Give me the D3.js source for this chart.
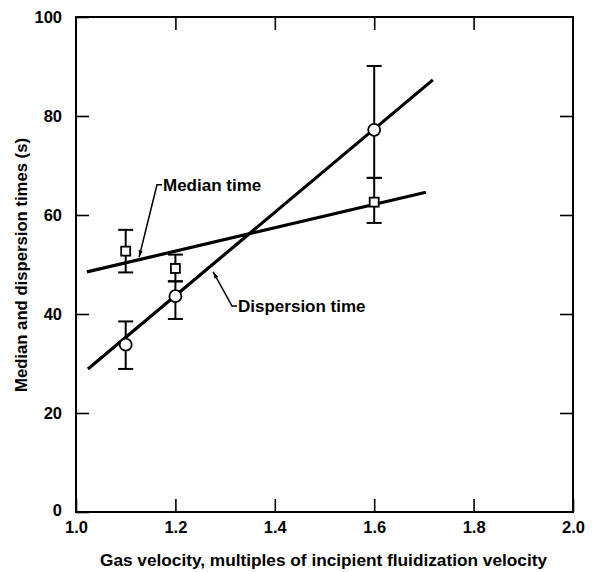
<!DOCTYPE html>
<html>
<head>
<meta charset="utf-8">
<script src="https://cdn.jsdelivr.net/npm/d3@7"></script>
<style>
	body { margin: 0; background: #fff; }
	svg text { font-family: "Liberation Sans", Arial, sans-serif; font-weight: bold; fill: #000; }
</style>
</head>
<body>
<svg id="chart" width="601" height="572"></svg>
<script>
// measured points (x = gas velocity / incipient fluidization velocity)
var velocity = [1.1, 1.2, 1.6];
var medianTime = [52.7, 49.2, 62.6];
var medianLow = [48.4, 46.6, 58.4];
var medianHigh = [57.0, 52.0, 67.5];
var dispersionTime = [33.8, 43.6, 77.2];
var dispersionLow = [28.9, 39.0, 67.5];
var dispersionHigh = [38.5, 46.6, 90.1];

// fitted lines, end points
var medianFitX = [1.022, 1.704];
var medianFitY = [48.5, 64.6];
var dispersionFitX = [1.024, 1.718];
var dispersionFitY = [28.9, 87.3];

var xTicks = [1.0, 1.2, 1.4, 1.6, 1.8, 2.0];
var yTicks = [0, 20, 40, 60, 80, 100];

// label text, label anchor and arrow tip (data units)
var labelNames = ["Median time", "Dispersion time"];
var labelAt = [[1.175, 66.1], [1.326, 41.6]];
var labelTip = [[1.127, 51.5], [1.276, 48.5]];

var margin = {left: 76, top: 17, right: 28, bottom: 60};
var width = 601 - margin.left - margin.right;
var height = 572 - margin.top - margin.bottom;

var svg = d3.select("#chart");
var g = svg.append("g").attr("transform", "translate(" + margin.left + "," + margin.top + ")");

var x = d3.scaleLinear().domain([1, 2]).range([0, width]);
var y = d3.scaleLinear().domain([0, 100]).range([height, 0]);

var tickLen = 13;
var inner = xTicks.filter(function(d) { return d > 1 && d < 2; });
var innerY = yTicks.filter(function(d) { return d > 0 && d < 100; });

// axes, ticks pointing into the plot
g.append("g").attr("class", "axis").attr("transform", "translate(0," + height + ")")
	.call(d3.axisBottom(x).tickValues(xTicks).tickFormat(d3.format(".1f")).tickSizeInner(-tickLen).tickSizeOuter(0).tickPadding(9));
g.append("g").attr("class", "axis")
	.call(d3.axisTop(x).tickValues(inner).tickFormat("").tickSizeInner(-tickLen).tickSizeOuter(0));
g.append("g").attr("class", "axis")
	.call(d3.axisLeft(y).tickValues(yTicks).tickFormat(d3.format("d")).tickSizeInner(-tickLen).tickSizeOuter(0).tickPadding(14));
g.append("g").attr("class", "axis").attr("transform", "translate(" + width + ",0)")
	.call(d3.axisRight(y).tickValues(innerY).tickFormat("").tickSizeInner(-tickLen).tickSizeOuter(0));

g.selectAll(".axis .domain").remove();
g.selectAll(".axis line").attr("stroke", "#000").attr("stroke-width", 1.6);
g.selectAll(".axis text").attr("font-size", 16.5).attr("font-family", "Liberation Sans").attr("font-weight", "bold");
g.selectAll(".axis text").filter(function(d) { return d === 0; }).attr("dy", "0.2em");

g.append("rect").attr("width", width).attr("height", height)
	.attr("fill", "none").attr("stroke", "#000").attr("stroke-width", 2);

// fitted lines
var line = d3.line().x(function(d) { return x(d[0]); }).y(function(d) { return y(d[1]); });
g.append("path").datum(d3.zip(medianFitX, medianFitY)).attr("d", line)
	.attr("fill", "none").attr("stroke", "#000").attr("stroke-width", 3.2);
g.append("path").datum(d3.zip(dispersionFitX, dispersionFitY)).attr("d", line)
	.attr("fill", "none").attr("stroke", "#000").attr("stroke-width", 3.2);

// error bars
function errorBars(lo, hi) {
	var cap = 7.5;
	var bars = g.append("g").attr("stroke", "#000").attr("stroke-width", 2);
	velocity.forEach(function(v, i) {
		bars.append("line").attr("x1", x(v)).attr("x2", x(v)).attr("y1", y(lo[i])).attr("y2", y(hi[i]));
		bars.append("line").attr("x1", x(v) - cap).attr("x2", x(v) + cap).attr("y1", y(lo[i])).attr("y2", y(lo[i]));
		bars.append("line").attr("x1", x(v) - cap).attr("x2", x(v) + cap).attr("y1", y(hi[i])).attr("y2", y(hi[i]));
	});
}
errorBars(dispersionLow, dispersionHigh);
errorBars(medianLow, medianHigh);

// markers
var sq = 9;
g.selectAll(".median").data(d3.zip(velocity, medianTime)).enter().append("rect")
	.attr("x", function(d) { return x(d[0]) - sq / 2; })
	.attr("y", function(d) { return y(d[1]) - sq / 2; })
	.attr("width", sq).attr("height", sq)
	.attr("fill", "#fff").attr("stroke", "#000").attr("stroke-width", 1.8);
g.selectAll(".dispersion").data(d3.zip(velocity, dispersionTime)).enter().append("circle")
	.attr("cx", function(d) { return x(d[0]); })
	.attr("cy", function(d) { return y(d[1]); })
	.attr("r", 6)
	.attr("fill", "#fff").attr("stroke", "#000").attr("stroke-width", 1.8);

// labels with leader arrows
labelNames.forEach(function(name, i) {
	var lx = x(labelAt[i][0]), ly = y(labelAt[i][1]);
	var tx = x(labelTip[i][0]), ty = y(labelTip[i][1]);
	var bx = lx - 6;
	g.append("path").attr("d", "M" + (lx - 1) + "," + ly + "L" + bx + "," + ly + "L" + tx + "," + ty)
		.attr("fill", "none").attr("stroke", "#000").attr("stroke-width", 1.5);
	var ang = Math.atan2(ty - ly, tx - bx);
	var a1 = ang + Math.PI - 0.3, a2 = ang + Math.PI + 0.3, len = 7;
	g.append("path").attr("d", "M" + tx + "," + ty + "L" + (tx + len * Math.cos(a1)) + "," + (ty + len * Math.sin(a1)) +
		"L" + (tx + len * Math.cos(a2)) + "," + (ty + len * Math.sin(a2)) + "Z").attr("fill", "#000");
	g.append("text").attr("x", lx).attr("y", ly).attr("dy", "0.35em").attr("font-size", 17).text(name);
});

// axis titles
svg.append("text").attr("x", 100).attr("y", 566)
	.attr("font-size", 16.5).attr("textLength", 447).attr("lengthAdjust", "spacingAndGlyphs")
	.text("Gas velocity, multiples of incipient fluidization velocity");
svg.append("text").attr("transform", "translate(27,392) rotate(-90)")
	.attr("font-size", 16.5).attr("textLength", 254).attr("lengthAdjust", "spacingAndGlyphs")
	.text("Median and dispersion times (s)");
</script>
</body>
</html>
